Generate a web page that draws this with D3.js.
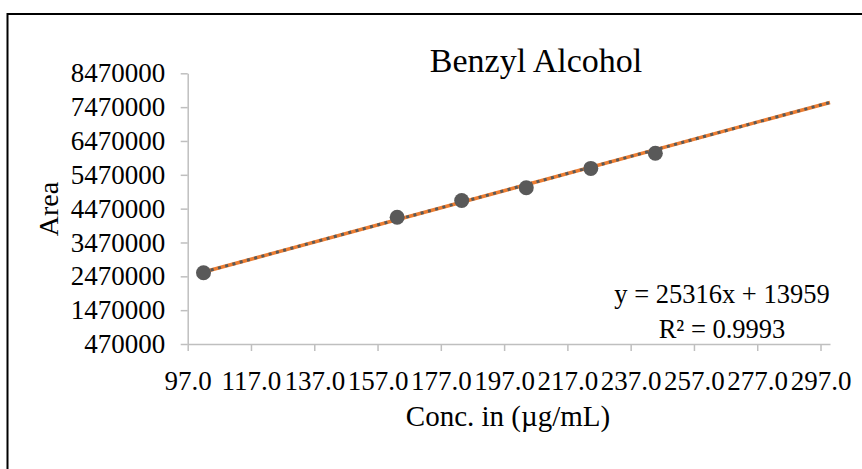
<!DOCTYPE html>
<html>
<head>
<meta charset="utf-8">
<script src="https://cdn.jsdelivr.net/npm/d3@7"></script>
<style>
  html, body { margin: 0; padding: 0; background: #fff; }
  svg { display: block; }
  text { font-family: "Liberation Serif", "Times New Roman", serif; fill: #000; }
</style>
</head>
<body>
<svg id="chart" width="862" height="469"></svg>
<script>
// ---- data ----
const concentrations = [102.0, 163.2, 183.6, 204.0, 224.4, 244.8];
const areas = [2577000, 4214000, 4710000, 5089000, 5659000, 6108000];
const xTickValues = [97, 117, 137, 157, 177, 197, 217, 237, 257, 277, 297];
const yTickValues = [470000, 1470000, 2470000, 3470000, 4470000, 5470000, 6470000, 7470000, 8470000];
const xDomain = [97, 300];
const yDomain = [470000, 8470000];
const trendSlope = 25316;
const trendIntercept = 13959;
const trendRange = [102.0, 300];
const titleText = "Benzyl Alcohol";
const xTitle = "Conc. in (µg/mL)";
const yTitle = "Area";
const eqLines = ["y = 25316x + 13959", "R² = 0.9993"];

// ---- layout ----
const svg = d3.select("#chart");
const plot = { left: 187.7, right: 830, top: 73.3, bottom: 344 };

svg.append("rect")
  .attr("x", 7.5).attr("y", 14).attr("width", 880).attr("height", 480)
  .attr("fill", "none").attr("stroke", "#000").attr("stroke-width", 2);

const x = d3.scaleLinear().domain(xDomain).range([plot.left, plot.right]);
const y = d3.scaleLinear().domain(yDomain).range([plot.bottom, plot.top]);

const axisColor = "#bfbfbf";
const tickFont = 27;

// y axis
const yAxis = d3.axisLeft(y).tickValues(yTickValues).tickFormat(d3.format("d"))
  .tickSize(7).tickSizeOuter(0).tickPadding(15.5);
const gy = svg.append("g").attr("transform", `translate(${plot.left},0)`).call(yAxis);
gy.selectAll("path, line").attr("stroke", axisColor).attr("stroke-width", 1.5);
gy.selectAll("text").attr("font-size", tickFont).attr("font-family", "Liberation Serif")
  .attr("fill", "#000");

// x axis
const xAxis = d3.axisBottom(x).tickValues(xTickValues).tickFormat(d3.format(".1f"))
  .tickSize(7).tickSizeOuter(0).tickPadding(20);
const gx = svg.append("g").attr("transform", `translate(0,${plot.bottom})`).call(xAxis);
gx.selectAll("path, line").attr("stroke", axisColor).attr("stroke-width", 1.5);
gx.selectAll("text").attr("font-size", tickFont).attr("font-family", "Liberation Serif")
  .attr("fill", "#000")
  .attr("y", 46).attr("dy", 0);

// trendlines
const trendData = trendRange.map(v => ({ cx: v, cy: trendSlope * v + trendIntercept }));
const line = d3.line().x(d => x(d.cx)).y(d => y(d.cy));

svg.append("path").datum(trendData)
  .attr("d", line).attr("fill", "none")
  .attr("stroke", "#ed7d31").attr("stroke-width", 3.5);

svg.append("path").datum(trendData)
  .attr("d", line).attr("fill", "none")
  .attr("stroke", "#595959").attr("stroke-width", 3)
  .attr("stroke-dasharray", "3,4.5");

// markers
svg.append("g").selectAll("circle")
  .data(concentrations.map((c, i) => ({ c, a: areas[i] })))
  .join("circle")
  .attr("cx", d => x(d.c)).attr("cy", d => y(d.a))
  .attr("r", 7.5).attr("fill", "#595959");

// titles
function addText(tx, ty, str, size, anchor) {
  svg.append("text")
    .attr("x", tx).attr("y", ty)
    .attr("text-anchor", anchor || "middle")
    .attr("font-size", size)
    .text(str);
}
addText(536, 72, titleText, 34);
addText(508, 426, xTitle, 29);

svg.append("text")
  .attr("transform", "translate(58,209) rotate(-90)")
  .attr("text-anchor", "middle")
  .attr("font-size", 28)
  .text(yTitle);

addText(722, 303, eqLines[0], 26.5);
addText(722, 338, eqLines[1], 26.5);
</script>
</body>
</html>
